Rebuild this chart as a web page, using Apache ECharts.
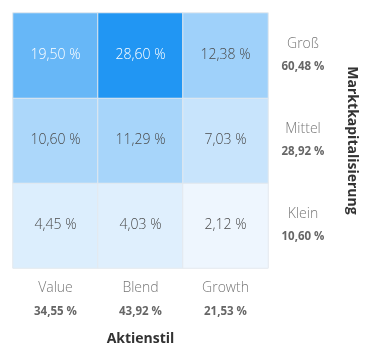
<!DOCTYPE html>
<html><head><meta charset="utf-8">
<script src="https://cdn.jsdelivr.net/npm/echarts@6/dist/echarts.min.js"></script>
<style>html,body{margin:0;padding:0;background:#fff}#c{width:368px;height:359px}</style>
</head><body><div id="c"></div>
<script>
const styles = ['Value', 'Blend', 'Growth'];
const styleTotals = ['34,55 %', '43,92 %', '21,53 %'];
const sizes = ['Klein', 'Mittel', 'Groß'];
const sizeTotals = ['10,60 %', '28,92 %', '60,48 %'];
// rows: Klein, Mittel, Groß ; columns: Value, Blend, Growth
const kleinValues = [4.45, 4.03, 2.12];
const mittelValues = [10.60, 11.29, 7.03];
const grossValues = [19.50, 28.60, 12.38];

const rows = [kleinValues, mittelValues, grossValues];
const data = [];
rows.forEach((r, yi) => r.forEach((v, xi) => data.push([xi, yi, v])));
const fmt = v => v.toFixed(2).replace('.', ',') + ' %';
const FONT = 'Open Sans';

const chart = echarts.init(document.getElementById('c'));
chart.setOption({
  animation: false,
  textStyle: { fontFamily: FONT },
  grid: { left: 13, right: 100, top: 13, bottom: 91, outerBoundsMode: 'none', containLabel: false },
  xAxis: {
    type: 'category', data: styles, position: 'bottom',
    axisLine: { show: false }, axisTick: { show: false }, splitLine: { show: false },
    axisLabel: {
      interval: 0, margin: 9,
      formatter: (v, i) => '{a|' + v + '}\n{b|' + styleTotals[i] + '}',
      rich: {
        a: { fontSize: 14, color: '#777', fontWeight: 300, lineHeight: 23, fontFamily: FONT },
        b: { fontSize: 11.5, color: '#666', fontWeight: 'bold', lineHeight: 23, fontFamily: FONT }
      }
    },
    name: 'Aktienstil', nameLocation: 'middle', nameGap: 64,
    nameTextStyle: { fontSize: 14, fontWeight: 'bold', color: '#333', fontFamily: FONT }
  },
  yAxis: {
    type: 'category', data: sizes, position: 'right',
    axisLine: { show: false }, axisTick: { show: false }, splitLine: { show: false },
    axisLabel: {
      interval: 0, margin: 35, align: 'center',
      formatter: (v, i) => '{a|' + v + '}\n{b|' + sizeTotals[i] + '}',
      rich: {
        a: { fontSize: 14, color: '#777', fontWeight: 300, lineHeight: 23, fontFamily: FONT, align: 'center' },
        b: { fontSize: 11.5, color: '#666', fontWeight: 'bold', lineHeight: 23, fontFamily: FONT, align: 'center' }
      }
    },
    name: 'Marktkapitalisierung', nameLocation: 'middle', nameGap: 77, nameRotate: -90,
    nameTextStyle: { fontSize: 14, fontWeight: 'bold', color: '#333', fontFamily: FONT }
  },
  visualMap: {
    show: false, type: 'continuous', min: 2.12, max: 28.60, dimension: 2,
    inRange: { color: ['#eef6fe', '#2196f3'] }
  },
  series: [{
    type: 'heatmap',
    data: data.map(d => d[2] > 15 ? { value: d, label: { color: '#fff' } } : { value: d }),
    itemStyle: { borderColor: '#e4e9ee', borderWidth: 1 },
    label: {
      show: true, fontSize: 14, fontWeight: 300, fontFamily: FONT,
      formatter: p => fmt(p.value[2]),
      color: '#4a4a4a'
    }
  }]
});
</script></body></html>
